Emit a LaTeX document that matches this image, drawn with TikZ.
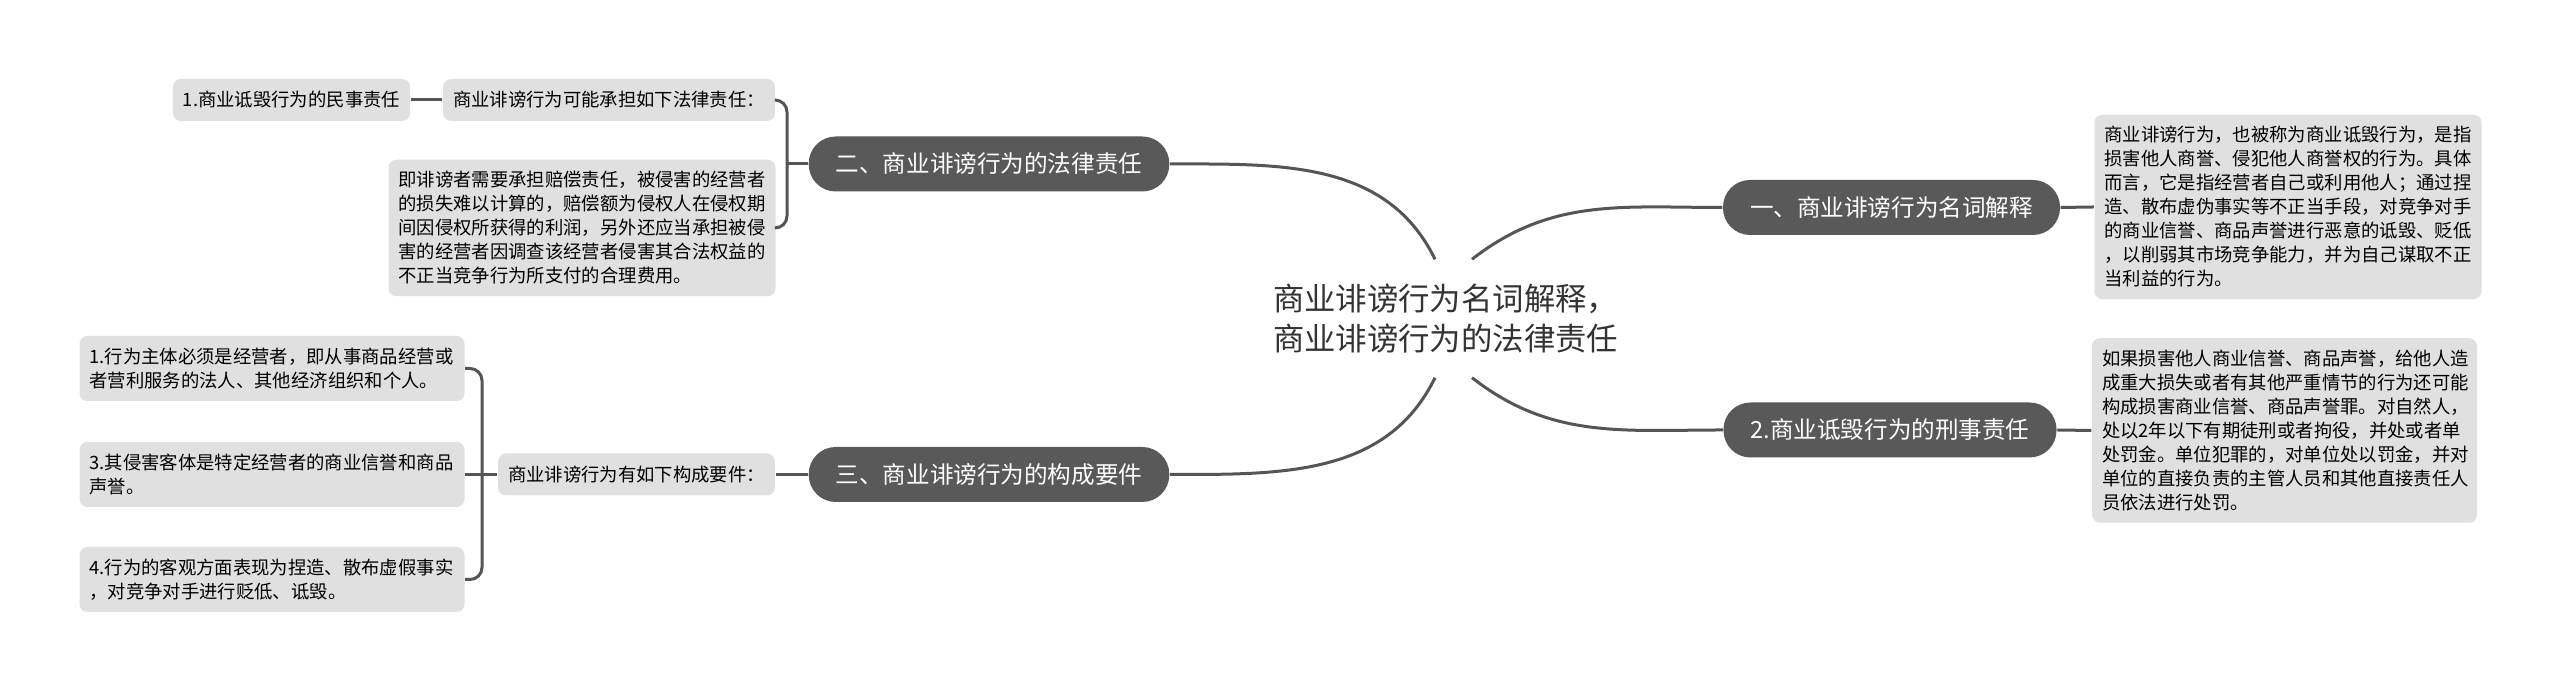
\documentclass[tikz,border=0pt]{standalone}
\usepackage{fontspec}
\setmainfont{Noto Sans CJK SC}
\usepackage{tikz}
\usetikzlibrary{positioning,calc}

\definecolor{pillgray}{HTML}{595959}
\definecolor{boxgray}{HTML}{E0E0E0}
\definecolor{linegray}{HTML}{555555}
\definecolor{rootgray}{HTML}{333333}
\newcommand{\rootfont}{\fontsize{8.93pt}{11.38pt}\selectfont}
\newcommand{\branchfont}{\fontsize{6.71pt}{8pt}\selectfont}
\newcommand{\leaffont}{\fontsize{5.22pt}{6.83pt}\selectfont}

\begin{document}
\begin{tikzpicture}[
    rootnode/.style={text=rootgray, font=\rootfont, align=left, text width=3.5cm, inner sep=0pt, minimum height=1.17cm},
    pillnode/.style={fill=pillgray, text=white, font=\branchfont, rounded corners=0.27cm, minimum height=0.55cm, inner xsep=0.27cm},
    leafnode/.style={fill=boxgray, text=black, font=\leaffont, align=left, rounded corners=0.08cm, inner xsep=0.1cm, minimum height=0.42cm},
    link/.style={draw=linegray, line width=0.03cm}]
    \fill[white] (0,0) rectangle (25.6,6.91);
    \useasboundingbox (0,0) rectangle (25.6,6.91);

    \node[rootnode] (ctr) at (14.48, 3.725) {商业诽谤行为名词解释，\\商业诽谤行为的法律责任};
    \coordinate (ctrTL) at ([xshift=-0.13cm]ctr.north);
    \coordinate (ctrTR) at ([xshift=0.24cm]ctr.north);
    \coordinate (ctrBL) at ([xshift=-0.13cm]ctr.south);
    \coordinate (ctrBR) at ([xshift=0.24cm]ctr.south);

    \node[pillnode] (def) at (18.915, 4.835) {一、商业诽谤行为名词解释};
    \node[leafnode, text width=3.67cm, minimum height=1.84cm] (defText) at (22.88, 4.84) {商业诽谤行为，也被称为商业诋毁行为，是指\\损害他人商誉、侵犯他人商誉权的行为。具体\\而言，它是指经营者自己或利用他人；通过捏\\造、散布虚伪事实等不正当手段，对竞争对手\\的商业信誉、商品声誉进行恶意的诋毁、贬低\\，以削弱其市场竞争能力，并为自己谋取不正\\当利益的行为。};

    \node[pillnode] (crim) at (18.9, 2.61) {2.商业诋毁行为的刑事责任};
    \node[leafnode, text width=3.65cm, minimum height=1.83cm] (crimText) at (22.845, 2.605) {如果损害他人商业信誉、商品声誉，给他人造\\成重大损失或者有其他严重情节的行为还可能\\构成损害商业信誉、商品声誉罪。对自然人，\\处以2年以下有期徒刑或者拘役，并处或者单\\处罚金。单位犯罪的，对单位处以罚金，并对\\单位的直接负责的主管人员和其他直接责任人\\员依法进行处罚。};

    \node[pillnode] (liab) at (9.89, 5.27) {二、商业诽谤行为的法律责任};
    \node[leafnode] (liabIntro) at (6.09, 5.91) {商业诽谤行为可能承担如下法律责任：};
    \node[leafnode] (civil) at (2.915, 5.91) {1.商业诋毁行为的民事责任};
    \node[leafnode, text width=3.67cm, minimum height=1.36cm] (liabText) at (5.82, 4.63) {即诽谤者需要承担赔偿责任，被侵害的经营者\\的损失难以计算的，赔偿额为侵权人在侵权期\\间因侵权所获得的利润，另外还应当承担被侵\\害的经营者因调查该经营者侵害其合法权益的\\不正当竞争行为所支付的合理费用。};

    \node[pillnode] (elem) at (9.89, 2.165) {三、商业诽谤行为的构成要件};
    \node[leafnode] (elemIntro) at (6.365, 2.165) {商业诽谤行为有如下构成要件：};
    \node[leafnode, text width=3.65cm, minimum height=0.65cm] (elemA) at (2.72, 3.225) {1.行为主体必须是经营者，即从事商品经营或\\者营利服务的法人、其他经济组织和个人。};
    \node[leafnode, text width=3.65cm, minimum height=0.65cm] (elemB) at (2.72, 2.165) {3.其侵害客体是特定经营者的商业信誉和商品\\声誉。};
    \node[leafnode, text width=3.65cm, minimum height=0.65cm] (elemC) at (2.72, 1.115) {4.行为的客观方面表现为捏造、散布虚假事实\\，对竞争对手进行贬低、诋毁。};

    \coordinate (liabBrace) at (7.87, 5.27);
    \coordinate (elemBrace) at (4.82, 2.165);

    \draw[link] (ctrTL) to[out=116, in=0] (liab.east);
    \draw[link] (ctrTR) to[out=38, in=180] (def.west);
    \draw[link] (ctrBL) to[out=-116, in=0] (elem.east);
    \draw[link] (ctrBR) to[out=-38, in=180] (crim.west);
    \draw[link] (def.east) -- (defText.west);
    \draw[link] (crim.east) -- (crimText.west);
    \draw[link] (liab.west) -- (liabBrace);
    \draw[link, rounded corners=0.12cm] (liabIntro.east) -| (liabBrace) |- (liabText.east);
    \draw[link] (liabIntro.west) -- (civil.east);
    \draw[link] (elem.west) -- (elemIntro.east);
    \draw[link] (elemIntro.west) -- (elemBrace);
    \draw[link, rounded corners=0.12cm] (elemA.east) -| (elemBrace) |- (elemC.east);
    \draw[link] (elemBrace) -- (elemB.east);
  \end{tikzpicture}
\end{document}
